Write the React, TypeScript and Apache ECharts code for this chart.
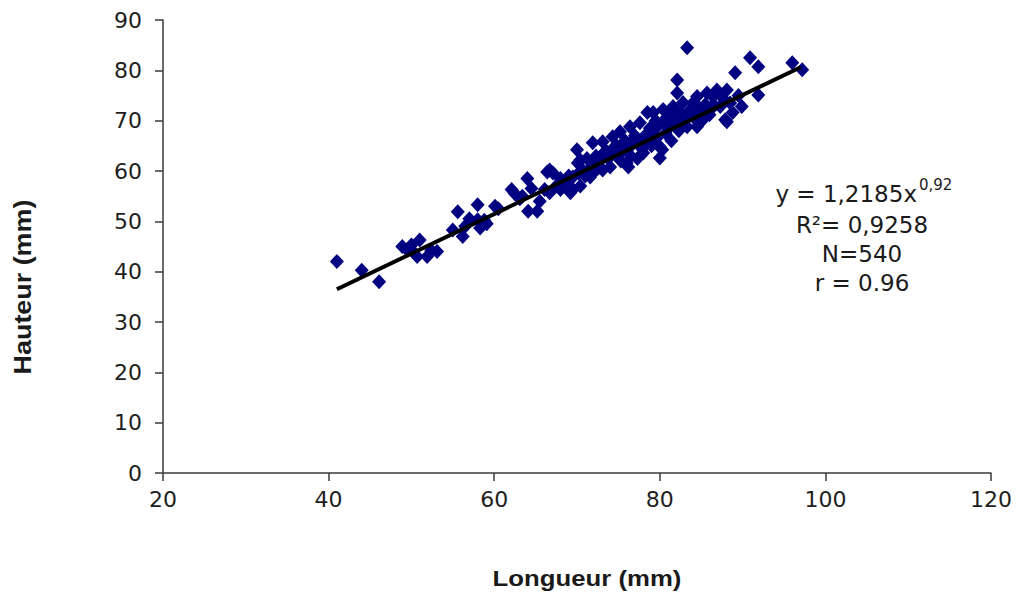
import React, { useEffect, useRef } from "react";
import * as echarts from "echarts";

// Measured points (Longueur mm, Hauteur mm)
const points: [number, number][] = [
  [41, 42], [44, 40.3], [46.1, 38], [48.9, 45], [49.5, 44.3], [50, 45.3], [51, 46.3], [50.7, 43],
  [51.9, 43], [52.4, 44.2], [53.1, 44], [50.2, 44],
  [55, 48.3], [55.6, 51.9], [56.2, 47], [56.5, 49], [57, 50.5], [58, 53.3], [58, 50.3], [58.3, 48.7],
  [58.8, 50.2], [59.1, 49.5], [60.1, 53], [60.5, 52.5],
  [62.1, 56.3], [62.5, 55.5], [63.1, 54.5], [63.4, 55], [64, 58.5], [64.1, 52], [64.5, 56.5], [65.2, 52],
  [65.5, 54], [66.1, 56.3], [66.4, 59.8], [66.7, 55.7], [66.7, 60.2], [67.1, 59.6], [67.5, 57], [68, 56.3],
  [68, 58.5], [68.6, 57.7], [69, 59], [69.2, 55.7], [69.5, 58.8], [69.5, 56.3],
  [70, 64.2], [70.1, 61.6], [70.4, 62.2], [70.4, 57], [70.8, 60], [71, 59], [71.6, 58.8], [71.9, 65.6],
  [71.9, 61], [72.3, 63], [72.5, 60.5], [72.8, 62], [73.1, 65.8], [73.1, 60.2], [73.5, 64], [73.8, 62.5],
  [74, 60.8], [74.3, 66.8], [74.5, 63.5], [74.8, 65], [75.2, 67.8], [75.3, 62], [75.6, 64.5], [75.8, 66],
  [76, 61.6], [76.2, 60.8], [76.4, 68.8], [76.5, 63], [76.8, 65.5], [77, 67], [77.3, 62.5], [77.6, 69.6],
  [77.8, 64.5], [78, 63.6], [78.2, 67], [78.5, 71.6], [78.5, 66.8], [78.8, 68.5], [79, 65], [79.2, 71.6],
  [79.2, 68.8], [79.5, 70], [79.6, 66.5], [80, 64.8], [80, 62.6], [80.3, 64.2], [80.4, 72.2], [80.5, 69.5],
  [80.7, 67.5], [81, 70.5], [81.2, 68.8], [81.4, 66], [81.6, 72.8], [81.8, 70.8], [82.1, 78.1], [82.1, 75.5],
  [82.3, 68], [82.5, 71.5], [82.8, 73.6], [83, 70], [83.3, 84.5], [83.3, 68.8], [83.6, 72], [84, 73.5],
  [84.2, 70.5], [84.5, 74.8], [84.5, 68.8], [84.8, 72.5], [85.2, 70.8], [85.2, 70.2], [85.5, 73.2], [85.7, 75.5],
  [85.7, 72.2], [86, 71.2], [86.4, 74.8], [86.6, 73], [86.9, 76.1], [87.3, 72.8], [87.6, 74.5], [87.9, 70.2],
  [88.1, 76.1], [88.1, 69.8], [88.5, 73.5], [88.8, 71.6], [89.1, 79.5], [89.5, 75], [89.9, 72.8], [90.9, 82.5],
  [91.9, 80.7], [91.9, 75.1], [96, 81.5], [97.2, 80.1],
  [71.2, 62.5], [72, 59.8], [73, 63.2], [74.2, 64.2], [75, 63.2], [76, 64], [76.9, 66.4], [77.5, 65.8],
  [78.3, 65.2], [79.1, 67.6], [79.8, 69], [80.8, 70.6], [81.3, 71.8], [82, 69.8], [82.6, 70.8], [83.5, 71],
  [84.3, 71.8], [85, 72], [86.2, 72.6], [67.8, 57.2], [68.8, 58], [70.2, 59.6], [71.5, 60.4],
];

// Fitted trend line endpoints
const trendLine: [number, number][] = [
  [41, 36.5],
  [97, 80.6],
];

const xTicks = { min: 20, max: 120, interval: 20 };
const yTicks = { min: 0, max: 90, interval: 10 };

const xTitle = "Longueur (mm)";
const yTitle = "Hauteur (mm)";
const eqMain = "y = 1,2185x";
const eqExp = "0,92";
const statLines = ["R²= 0,9258", "N=540", "r = 0.96"];

export default function App() {
  const ref = useRef<HTMLDivElement>(null);
  useEffect(() => {
    if (!ref.current) return;
    const chart = echarts.init(ref.current, null, { renderer: "svg" });
    const axisColor = "#3a3a3a";
    const labelStyle = {
      fontFamily: "DejaVu Sans",
      fontSize: 22,
      color: "#1e1e1e",
    };
    const annot = {
      fontFamily: "DejaVu Sans",
      fontSize: 23,
      fill: "#1a1a1a",
      align: "center",
      verticalAlign: "middle",
    };
    chart.setOption({
      animation: false,
      backgroundColor: "#ffffff",
      grid: { left: 163, right: 29, top: 20, bottom: 130, containLabel: false },
      xAxis: {
        type: "value",
        min: xTicks.min,
        max: xTicks.max,
        interval: xTicks.interval,
        axisLine: { show: true, onZero: false, lineStyle: { color: axisColor, width: 1.5 } },
        axisTick: { show: true, length: 8, lineStyle: { color: axisColor, width: 1.5 } },
        splitLine: { show: false },
        axisLabel: { ...labelStyle, margin: 15 },
      },
      yAxis: {
        type: "value",
        min: yTicks.min,
        max: yTicks.max,
        interval: yTicks.interval,
        axisLine: { show: true, onZero: false, lineStyle: { color: axisColor, width: 1.5 } },
        axisTick: { show: true, length: 8, lineStyle: { color: axisColor, width: 1.5 } },
        splitLine: { show: false },
        axisLabel: { ...labelStyle, margin: 21 },
      },
      series: [
        {
          type: "scatter",
          data: points,
          symbol: "diamond",
          symbolSize: [14, 15],
          itemStyle: { color: "#000080", opacity: 1 },
          z: 2,
        },
        {
          type: "line",
          data: trendLine,
          symbol: "none",
          lineStyle: { color: "#000000", width: 4 },
          z: 3,
        },
      ],
      graphic: [
        {
          type: "text",
          x: 23,
          y: 287,
          rotation: Math.PI / 2,
          scaleX: 1.17,
          style: {
            text: yTitle,
            fontFamily: "Liberation Sans",
            fontWeight: "bold",
            fontSize: 23,
            fill: "#1a1a1a",
            align: "center",
            verticalAlign: "middle",
          },
        },
        {
          type: "text",
          x: 587,
          y: 578,
          scaleX: 1.12,
          style: {
            text: xTitle,
            fontFamily: "Liberation Sans",
            fontWeight: "bold",
            fontSize: 23,
            fill: "#1a1a1a",
            align: "center",
            verticalAlign: "middle",
          },
        },
        {
          type: "text",
          x: 917,
          y: 194,
          style: { ...annot, text: eqMain, align: "right" },
        },
        {
          type: "text",
          x: 919,
          y: 185,
          style: { ...annot, text: eqExp, fontSize: 15, align: "left" },
        },
        ...statLines.map((t, i) => ({
          type: "text",
          x: 862,
          y: 225 + i * 29,
          style: { ...annot, text: t },
        })),
      ],
    });
    return () => chart.dispose();
  }, []);
  return (
    <div
      ref={ref}
      style={{ position: "fixed", left: 0, top: 0, width: 1020, height: 603, background: "#fff" }}
    />
  );
}
